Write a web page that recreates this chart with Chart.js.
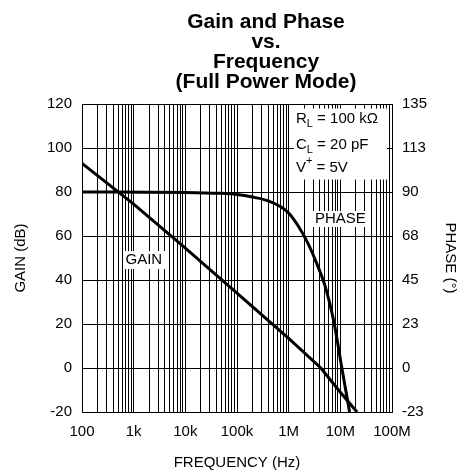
<!DOCTYPE html>
<html>
<head>
<meta charset="utf-8">
<script src="https://cdn.jsdelivr.net/npm/chart.js@4"></script>
<style>
  html, body { margin: 0; padding: 0; background: #fff; }
</style>
</head>
<body>
<canvas id="gainPhase" width="461" height="470"></canvas>
<script>
// frequency axis: decades and their labels
var decades = [1e2, 1e3, 1e4, 1e5, 1e6, 1e7, 1e8];
var decadeLabels = ['100', '1k', '10k', '100k', '1M', '10M', '100M'];

// left axis (gain) and right axis (phase) ticks
var gainTicks = [-20, 0, 20, 40, 60, 80, 100, 120];
var phaseTicks = [-22.5, 0, 22.5, 45, 67.5, 90, 112.5, 135];

// open loop gain, dB
var gainFreq = [100, 1e3, 1e4, 1e5, 1e6, 4.2e6, 1e7, 2.1e7];
var gainDb = [93, 74.5, 54.5, 34, 13.5, 0, -11, -20];

// phase margin, degrees
var phaseFreq = [100, 1e4, 5e4, 1e5, 2e5, 4e5, 7e5, 1e6, 1.5e6, 2.3e6, 3.6e6, 5.25e6, 7.6e6, 1.07e7, 1.51e7];
var phaseDeg = [90, 89.8, 89.3, 88.7, 87.4, 85.5, 82.5, 79.3, 73, 64.4, 52.6, 40.6, 22.8, 0, -22.5];

var FONT = "'Liberation Sans', Arial, sans-serif";

function pts(xs, ys) {
  return xs.map(function (x, i) { return { x: x, y: ys[i] }; });
}

// every 1..9 x 10^n line between 100 and 100M
var freqGrid = [];
decades.forEach(function (d, i) {
  if (i === decades.length - 1) { freqGrid.push(d); return; }
  for (var k = 1; k <= 9; k++) freqGrid.push(d * k);
});

function roundHalfAway(v) {
  return v < 0 ? -Math.round(-v) : Math.round(v);
}

function fixWidth(w) { return function (scale) { scale.width = w; }; }

var notes = {
  id: 'notes',
  beforeDatasetsDraw: function (chart) {
    var c = chart.ctx;
    var a = chart.chartArea;
    c.save();
    c.fillStyle = '#fff';
    c.fillRect(a.right - 98, a.top + 4.5, 93, 71);
    c.fillRect(a.right - 79, a.top + 107, 54, 16);
    c.fillRect(a.left + 41, a.top + 147, 43, 18);

    c.fillStyle = '#000';
    c.textBaseline = 'middle';
    c.font = '15px ' + FONT;
    c.fillText('PHASE', a.right - 77, a.top + 115);
    c.fillText('GAIN', a.left + 43.5, a.top + 156);

    var x0 = a.right - 96;
    function withSub(main, sub, rest, y, sup) {
      c.font = '15px ' + FONT;
      c.fillText(main, x0, y);
      var x = x0 + c.measureText(main).width;
      c.font = '11px ' + FONT;
      c.fillText(sub, x, y + (sup ? -7 : 5));
      x += c.measureText(sub).width;
      c.font = '15px ' + FONT;
      c.fillText(rest, x, y);
    }
    withSub('R', 'L', ' = 100 k\u03A9', a.top + 15);
    withSub('C', 'L', ' = 20 pF', a.top + 41);
    withSub('V', '+', ' = 5V', a.top + 64, true);
    c.restore();
  },
  afterDraw: function (chart) {
    var c = chart.ctx;
    c.save();
    c.fillStyle = '#000';
    c.font = 'bold 21px ' + FONT;
    c.textAlign = 'center';
    c.textBaseline = 'middle';
    ['Gain and Phase', 'vs.', 'Frequency', '(Full Power Mode)'].forEach(function (t, i) {
      c.fillText(t, 266, 22 + i * 20);
    });
    c.restore();
  }
};

new Chart(document.getElementById('gainPhase').getContext('2d'), {
  type: 'line',
  data: {
    datasets: [
      {
        label: 'GAIN',
        data: pts(gainFreq, gainDb),
        yAxisID: 'y',
        borderColor: '#000',
        borderWidth: 3,
        pointRadius: 0,
        tension: 0,
        fill: false
      },
      {
        label: 'PHASE',
        data: pts(phaseFreq, phaseDeg),
        yAxisID: 'y1',
        borderColor: '#000',
        borderWidth: 3,
        pointRadius: 0,
        cubicInterpolationMode: 'monotone',
        fill: false
      }
    ]
  },
  options: {
    responsive: false,
    animation: false,
    layout: { padding: { top: 104, left: 0, right: 0, bottom: 0 } },
    plugins: {
      legend: { display: false },
      title: { display: false },
      tooltip: { enabled: false }
    },
    scales: {
      x: {
        type: 'logarithmic',
        min: 100,
        max: 1e8,
        afterBuildTicks: function (scale) {
          scale.ticks = freqGrid.map(function (v) { return { value: v }; });
        },
        afterFit: function (scale) { scale.height = 58; },
        ticks: {
          autoSkip: false,
          maxRotation: 0,
          padding: 11,
          color: '#000',
          font: { family: FONT, size: 15 },
          callback: function (v) {
            var i = decades.indexOf(v);
            return i >= 0 ? decadeLabels[i] : '';
          }
        },
        grid: { color: '#000', lineWidth: 1, drawTicks: false },
        border: { color: '#000', width: 1 },
        title: {
          display: true,
          text: 'FREQUENCY (Hz)',
          color: '#000',
          font: { family: FONT, size: 15, lineHeight: 1 },
          padding: { top: 0, bottom: 0 }
        }
      },
      y: {
        position: 'left',
        min: -20,
        max: 120,
        afterBuildTicks: function (scale) {
          scale.ticks = gainTicks.map(function (v) { return { value: v }; });
        },
        afterFit: fixWidth(82),
        ticks: {
          padding: 10,
          color: '#000',
          font: { family: FONT, size: 15 }
        },
        grid: { color: '#000', lineWidth: 1, drawTicks: false },
        border: { color: '#000', width: 1 },
        title: {
          display: true,
          text: 'GAIN (dB)',
          color: '#000',
          font: { family: FONT, size: 15 },
          padding: { top: 12, bottom: 0 }
        }
      },
      y1: {
        position: 'right',
        min: -22.5,
        max: 135,
        afterBuildTicks: function (scale) {
          scale.ticks = phaseTicks.map(function (v) { return { value: v }; });
        },
        afterFit: fixWidth(69),
        ticks: {
          padding: 10,
          color: '#000',
          font: { family: FONT, size: 15 },
          callback: function (v) { return String(roundHalfAway(v)); }
        },
        grid: { drawOnChartArea: false, drawTicks: false },
        border: { color: '#000', width: 1 },
        title: {
          display: true,
          text: 'PHASE (\u00B0)',
          color: '#000',
          font: { family: FONT, size: 15 },
          padding: { top: 2, bottom: 0 }
        }
      }
    }
  },
  plugins: [notes]
});
</script>
</body>
</html>
